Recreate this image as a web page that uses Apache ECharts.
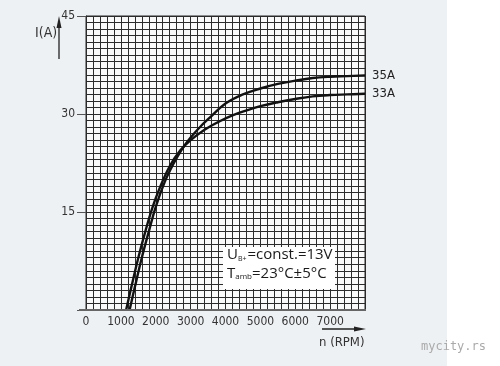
<!DOCTYPE html>
<html><head><meta charset="utf-8">
<script src="https://cdn.jsdelivr.net/npm/echarts@6/dist/echarts.min.js"></script>
<style>
html,body{margin:0;padding:0;width:500px;height:366px;background:linear-gradient(to right,#eef1f4 0,#eef1f4 447px,#ffffff 447px);}
#c{width:500px;height:366px;}
</style></head><body><div id="c"></div>
<script>
// Data
const rpm35 = [1250,1400,1600,1800,2000,2250,2500,2750,3000,3250,3500,4000,4500,5000,5500,6000,6500,7000,7500,8000];
const amp35 = [0,3.5,8,12,15.8,19.5,22.3,24.6,26.4,27.9,29.2,31.6,33.0,33.9,34.6,35.1,35.5,35.7,35.8,35.9];
const rpm33 = [1150,1300,1500,1700,1900,2100,2400,2700,3000,3400,3800,4200,4700,5000,5500,6000,6500,7000,7500,8000];
const amp33 = [0,3.5,8,12,15.6,18.5,22,24.4,26,27.6,28.8,29.8,30.7,31.2,31.8,32.3,32.7,32.9,33.0,33.1];
const seriesNames = ['35A','33A'];
const xTickLabels = [0,1000,2000,3000,4000,5000,6000,7000];
const yTickLabels = [15,30,45];

const chart = echarts.init(document.getElementById('c'), null, {renderer:'canvas'});
const pair = (xs, ys) => xs.map((x,i)=>[x, ys[i]]);
const condensed = "'DejaVu Sans Condensed','Liberation Sans Narrow',sans-serif";
const gridColor = '#2b2b2b';
chart.setOption({
  backgroundColor: 'transparent',
  animation: false,
  grid: {left:86, top:16, width:279, height:294, show:true, backgroundColor:'#f9f9f9', borderColor:gridColor, borderWidth:1},
  xAxis: [
    {type:'value', min:0, max:8000, interval:200, axisLine:{show:false}, axisTick:{show:false}, axisLabel:{show:false},
     splitLine:{show:true, lineStyle:{color:gridColor, width:1}}},
    {type:'value', min:0, max:8000, interval:1000, position:'bottom', axisLine:{show:false}, axisTick:{show:false}, splitLine:{show:false},
     axisLabel:{show:true, margin:6, color:'#333', fontSize:12, fontFamily:condensed,
       formatter: v => xTickLabels.indexOf(v) >= 0 ? String(v) : ''}}
  ],
  yAxis: [
    {type:'value', min:0, max:45, interval:1, axisLine:{show:false}, axisTick:{show:false}, axisLabel:{show:false},
     splitLine:{show:true, lineStyle:{color:gridColor, width:1}}},
    {type:'value', min:0, max:45, interval:15, position:'left', axisLine:{show:true, onZero:false, lineStyle:{color:gridColor, width:1}}, splitLine:{show:false},
     axisTick:{show:true, inside:false, length:9, lineStyle:{color:'#555', width:1}},
     axisLabel:{show:true, margin:11, color:'#333', fontSize:12, fontFamily:condensed,
       formatter: v => yTickLabels.indexOf(v) >= 0 ? String(v) : ''}}
  ],
  series: [
    {name:seriesNames[0], type:'line', xAxisIndex:0, yAxisIndex:0, data:pair(rpm35, amp35), smooth:0.4,
     showSymbol:false, symbol:'none', lineStyle:{color:'#111', width:2.4}, clip:false,
     endLabel:{show:true, formatter:seriesNames[0], color:'#222', fontSize:13, distance:7, fontFamily:condensed}},
    {name:seriesNames[1], type:'line', xAxisIndex:0, yAxisIndex:0, data:pair(rpm33, amp33), smooth:0.4,
     showSymbol:false, symbol:'none', lineStyle:{color:'#111', width:2.4}, clip:false,
     endLabel:{show:true, formatter:seriesNames[1], color:'#222', fontSize:13, distance:7, fontFamily:condensed}}
  ],
  graphic: [
    {type:'line', z:50, shape:{x1:79, y1:310, x2:366, y2:310}, style:{stroke:'#666', lineWidth:2}},
    {type:'text', z:50, left:35, top:26, style:{text:'I(A)', fontSize:14, fill:'#333', fontFamily:condensed}},
    {type:'line', z:50, shape:{x1:59, y1:59, x2:59, y2:24}, style:{stroke:'#222', lineWidth:1.3}},
    {type:'polygon', z:50, shape:{points:[[59,16],[56.5,28],[61.5,28]]}, style:{fill:'#222'}},
    {type:'text', z:50, left:319, top:336, style:{text:'n (RPM)', fontSize:13, fill:'#333', fontFamily:condensed}},
    {type:'line', z:50, shape:{x1:322, y1:329, x2:356, y2:329}, style:{stroke:'#222', lineWidth:1.3}},
    {type:'polygon', z:50, shape:{points:[[366,329],[354,326.5],[354,331.5]]}, style:{fill:'#222'}},
    {type:'rect', z:60, shape:{x:223, y:247, width:112, height:42}, style:{fill:'#ffffff', stroke:'none'}},
    {type:'text', z:61, left:227, top:247, style:{
      text:'{b|U}{s|B+}{b|=const.=13V}', fill:'#222',
      rich:{b:{fontSize:15, fontFamily:"'Open Sans',sans-serif", fill:'#1a1a1a', verticalAlign:'bottom'},
            s:{fontSize:7, fontFamily:"'Open Sans',sans-serif", fill:'#222', padding:[8,1,0,0], verticalAlign:'bottom'}}}},
    {type:'text', z:61, left:227, top:266, style:{
      text:'{b|T}{s|amb}{b|=23°C±5°C}', fill:'#222',
      rich:{b:{fontSize:15, fontFamily:"'Open Sans',sans-serif", fill:'#1a1a1a', verticalAlign:'bottom'},
            s:{fontSize:8, fontFamily:"'Open Sans',sans-serif", fill:'#222', padding:[8,0,0,0], verticalAlign:'bottom'}}}},
    {type:'text', z:50, left:421, top:341, style:{text:'mycity.rs', fontSize:12, fill:'#aaaaaa', fontFamily:"'DejaVu Sans Mono',monospace"}}
  ]
});
</script></body></html>
